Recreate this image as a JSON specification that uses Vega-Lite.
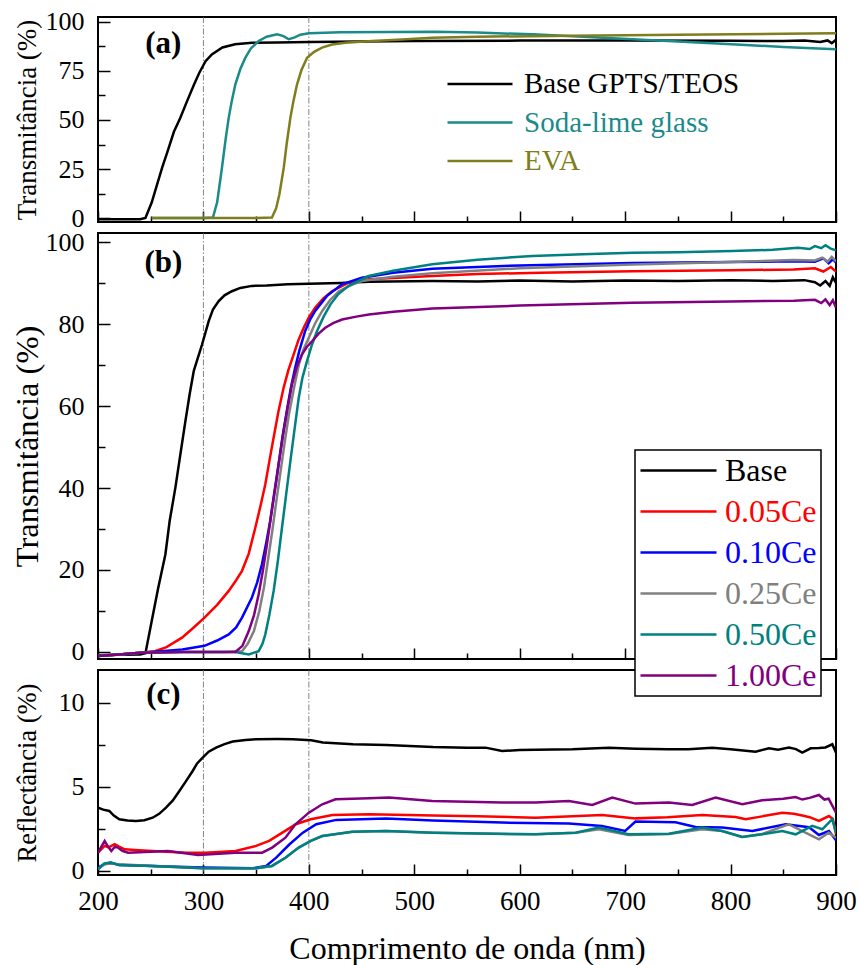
{
  "$schema": "https://vega.github.io/schema/vega-lite/v6.json",
  "background": "white",
  "padding": {"left": 10, "top": 7, "right": 4, "bottom": 2},
  "spacing": 11,
  "bounds": "flush",
  "config": {
    "font": "Liberation Serif",
    "view": {"stroke": "black", "strokeWidth": 2},
    "axis": {"labelFont": "Liberation Serif", "titleFont": "Liberation Serif", "labelColor": "black", "titleColor": "black", "tickColor": "black", "tickWidth": 1.5, "domain": false, "grid": false, "labelFlush": false, "labelOverlap": false, "titleFontWeight": "normal"},
    "legend": {"strokeWidth": 1.5, "labelFont": "Liberation Serif", "titleFont": "Liberation Serif"},
    "text": {"font": "Liberation Serif"}
  },
  "datasets": {
    "vl": [{"v": 300}, {"v": 400}],
    "a": [
      {"s":"Base GPTS/TEOS","x":200,"y":-0.6},{"s":"Base GPTS/TEOS","x":220,"y":-0.7},{"s":"Base GPTS/TEOS","x":240,"y":-0.6},{"s":"Base GPTS/TEOS","x":245,"y":0},{"s":"Base GPTS/TEOS","x":251,"y":8},{"s":"Base GPTS/TEOS","x":256,"y":17},{"s":"Base GPTS/TEOS","x":261,"y":26},{"s":"Base GPTS/TEOS","x":266,"y":34},{"s":"Base GPTS/TEOS","x":272,"y":44},{"s":"Base GPTS/TEOS","x":278,"y":51},{"s":"Base GPTS/TEOS","x":284,"y":59},{"s":"Base GPTS/TEOS","x":291,"y":68},{"s":"Base GPTS/TEOS","x":296,"y":74},{"s":"Base GPTS/TEOS","x":302,"y":80},{"s":"Base GPTS/TEOS","x":308,"y":83.5},{"s":"Base GPTS/TEOS","x":318,"y":87},{"s":"Base GPTS/TEOS","x":330,"y":88.6},{"s":"Base GPTS/TEOS","x":346,"y":89.4},{"s":"Base GPTS/TEOS","x":370,"y":89.6},{"s":"Base GPTS/TEOS","x":400,"y":89.8},{"s":"Base GPTS/TEOS","x":450,"y":90.1},{"s":"Base GPTS/TEOS","x":500,"y":90.3},{"s":"Base GPTS/TEOS","x":600,"y":90.5},{"s":"Base GPTS/TEOS","x":700,"y":90.6},{"s":"Base GPTS/TEOS","x":800,"y":90.4},{"s":"Base GPTS/TEOS","x":850,"y":90.3},{"s":"Base GPTS/TEOS","x":870,"y":90.5},{"s":"Base GPTS/TEOS","x":885,"y":89.8},{"s":"Base GPTS/TEOS","x":892,"y":90.6},{"s":"Base GPTS/TEOS","x":896,"y":89.2},{"s":"Base GPTS/TEOS","x":900,"y":91},
      {"s":"Soda-lime glass","x":251,"y":0},{"s":"Soda-lime glass","x":280,"y":0},{"s":"Soda-lime glass","x":300,"y":0},{"s":"Soda-lime glass","x":309,"y":0.2},{"s":"Soda-lime glass","x":313,"y":8},{"s":"Soda-lime glass","x":317.6,"y":25.7},{"s":"Soda-lime glass","x":321,"y":40},{"s":"Soda-lime glass","x":324,"y":51.2},{"s":"Soda-lime glass","x":327,"y":60},{"s":"Soda-lime glass","x":330.3,"y":68.2},{"s":"Soda-lime glass","x":335,"y":76},{"s":"Soda-lime glass","x":339.8,"y":81.8},{"s":"Soda-lime glass","x":345,"y":86.5},{"s":"Soda-lime glass","x":352.4,"y":90.3},{"s":"Soda-lime glass","x":360,"y":92.5},{"s":"Soda-lime glass","x":369.8,"y":93.7},{"s":"Soda-lime glass","x":376,"y":92.8},{"s":"Soda-lime glass","x":380.9,"y":91.2},{"s":"Soda-lime glass","x":386,"y":92},{"s":"Soda-lime glass","x":392,"y":93.5},{"s":"Soda-lime glass","x":400,"y":94.2},{"s":"Soda-lime glass","x":430,"y":94.8},{"s":"Soda-lime glass","x":520,"y":95},{"s":"Soda-lime glass","x":560,"y":94.6},{"s":"Soda-lime glass","x":612,"y":93.7},{"s":"Soda-lime glass","x":660,"y":92.5},{"s":"Soda-lime glass","x":707,"y":91.2},{"s":"Soda-lime glass","x":750,"y":90},{"s":"Soda-lime glass","x":801,"y":88.6},{"s":"Soda-lime glass","x":850,"y":87.3},{"s":"Soda-lime glass","x":900,"y":86.1},
      {"s":"EVA","x":251,"y":0},{"s":"EVA","x":300,"y":0},{"s":"EVA","x":350,"y":0},{"s":"EVA","x":365,"y":0.2},{"s":"EVA","x":369,"y":5},{"s":"EVA","x":372,"y":12},{"s":"EVA","x":376.2,"y":25.7},{"s":"EVA","x":379,"y":38},{"s":"EVA","x":382.5,"y":51.2},{"s":"EVA","x":385.5,"y":60},{"s":"EVA","x":388.8,"y":68.2},{"s":"EVA","x":393,"y":75.5},{"s":"EVA","x":398.3,"y":81.8},{"s":"EVA","x":405,"y":84.8},{"s":"EVA","x":412.5,"y":86.9},{"s":"EVA","x":422,"y":88.5},{"s":"EVA","x":434.6,"y":89.4},{"s":"EVA","x":460,"y":90.3},{"s":"EVA","x":488.4,"y":91.1},{"s":"EVA","x":517,"y":92},{"s":"EVA","x":560,"y":92.5},{"s":"EVA","x":650,"y":93},{"s":"EVA","x":750,"y":93.5},{"s":"EVA","x":850,"y":94},{"s":"EVA","x":900,"y":94.2}
    ],
    "b": [
      {"s":"Base","x":200,"y":-0.8},{"s":"Base","x":220,"y":-0.7},{"s":"Base","x":240,"y":-0.6},{"s":"Base","x":245,"y":-0.3},{"s":"Base","x":251,"y":7.6},{"s":"Base","x":257,"y":15.5},{"s":"Base","x":263.9,"y":23.8},{"s":"Base","x":268,"y":32},{"s":"Base","x":273.4,"y":40.1},{"s":"Base","x":278,"y":48},{"s":"Base","x":282.9,"y":56.3},{"s":"Base","x":287,"y":63},{"s":"Base","x":290.8,"y":68.5},{"s":"Base","x":295,"y":72},{"s":"Base","x":298.7,"y":75},{"s":"Base","x":305,"y":80.7},{"s":"Base","x":309,"y":83.5},{"s":"Base","x":314.5,"y":85.6},{"s":"Base","x":320,"y":87},{"s":"Base","x":327,"y":88},{"s":"Base","x":335,"y":88.8},{"s":"Base","x":346,"y":89.3},{"s":"Base","x":360,"y":89.4},{"s":"Base","x":380,"y":89.7},{"s":"Base","x":400,"y":89.8},{"s":"Base","x":430,"y":90},{"s":"Base","x":457,"y":90.3},{"s":"Base","x":517,"y":90.5},{"s":"Base","x":560,"y":90.4},{"s":"Base","x":600,"y":90.6},{"s":"Base","x":650,"y":90.4},{"s":"Base","x":700,"y":90.6},{"s":"Base","x":750,"y":90.5},{"s":"Base","x":800,"y":90.7},{"s":"Base","x":840,"y":90.5},{"s":"Base","x":870,"y":90.7},{"s":"Base","x":880,"y":90.2},{"s":"Base","x":885,"y":89.4},{"s":"Base","x":890,"y":90.5},{"s":"Base","x":894,"y":89.3},{"s":"Base","x":897,"y":91.4},{"s":"Base","x":900,"y":90},
      {"s":"0.05Ce","x":200,"y":-0.9},{"s":"0.05Ce","x":220,"y":-0.6},{"s":"0.05Ce","x":240,"y":-0.2},{"s":"0.05Ce","x":254,"y":0.2},{"s":"0.05Ce","x":265,"y":1.2},{"s":"0.05Ce","x":279.7,"y":3.5},{"s":"0.05Ce","x":290,"y":5.8},{"s":"0.05Ce","x":301,"y":8.4},{"s":"0.05Ce","x":313,"y":11.5},{"s":"0.05Ce","x":324,"y":14.9},{"s":"0.05Ce","x":331,"y":17.5},{"s":"0.05Ce","x":336.6,"y":19.8},{"s":"0.05Ce","x":343,"y":24},{"s":"0.05Ce","x":349.2,"y":30.3},{"s":"0.05Ce","x":354,"y":35.5},{"s":"0.05Ce","x":358.7,"y":40.9},{"s":"0.05Ce","x":362.5,"y":46.5},{"s":"0.05Ce","x":366.6,"y":52.3},{"s":"0.05Ce","x":371,"y":58.5},{"s":"0.05Ce","x":376.1,"y":64.5},{"s":"0.05Ce","x":380.5,"y":68.7},{"s":"0.05Ce","x":385.6,"y":72.6},{"s":"0.05Ce","x":390,"y":76},{"s":"0.05Ce","x":395.1,"y":79.1},{"s":"0.05Ce","x":400,"y":81.6},{"s":"0.05Ce","x":406.1,"y":84},{"s":"0.05Ce","x":414,"y":86.3},{"s":"0.05Ce","x":421.9,"y":88},{"s":"0.05Ce","x":437.8,"y":90.1},{"s":"0.05Ce","x":457,"y":90.9},{"s":"0.05Ce","x":517,"y":91.7},{"s":"0.05Ce","x":560,"y":92.2},{"s":"0.05Ce","x":620,"y":92.5},{"s":"0.05Ce","x":707,"y":92.9},{"s":"0.05Ce","x":800,"y":93.1},{"s":"0.05Ce","x":860,"y":93.3},{"s":"0.05Ce","x":880,"y":93.6},{"s":"0.05Ce","x":888,"y":92.8},{"s":"0.05Ce","x":895,"y":93.9},{"s":"0.05Ce","x":900,"y":92.8},
      {"s":"0.10Ce","x":200,"y":-1},{"s":"0.10Ce","x":220,"y":-0.6},{"s":"0.10Ce","x":240,"y":-0.2},{"s":"0.10Ce","x":260,"y":0.2},{"s":"0.10Ce","x":280,"y":0.6},{"s":"0.10Ce","x":301,"y":1.5},{"s":"0.10Ce","x":313,"y":2.8},{"s":"0.10Ce","x":324,"y":4.3},{"s":"0.10Ce","x":331,"y":6},{"s":"0.10Ce","x":336.6,"y":8.4},{"s":"0.10Ce","x":346,"y":13.3},{"s":"0.10Ce","x":351,"y":17},{"s":"0.10Ce","x":355.5,"y":21.4},{"s":"0.10Ce","x":359.5,"y":26.5},{"s":"0.10Ce","x":363.4,"y":32},{"s":"0.10Ce","x":367,"y":38.5},{"s":"0.10Ce","x":371.3,"y":45.8},{"s":"0.10Ce","x":375,"y":52.5},{"s":"0.10Ce","x":379.1,"y":58.8},{"s":"0.10Ce","x":383,"y":64.5},{"s":"0.10Ce","x":387,"y":69.3},{"s":"0.10Ce","x":391,"y":73.5},{"s":"0.10Ce","x":396.5,"y":78.3},{"s":"0.10Ce","x":401,"y":81},{"s":"0.10Ce","x":406,"y":83.2},{"s":"0.10Ce","x":417,"y":86.8},{"s":"0.10Ce","x":431.3,"y":89.7},{"s":"0.10Ce","x":450.3,"y":91.3},{"s":"0.10Ce","x":480,"y":92.5},{"s":"0.10Ce","x":517,"y":93.5},{"s":"0.10Ce","x":600,"y":94.3},{"s":"0.10Ce","x":707,"y":94.9},{"s":"0.10Ce","x":800,"y":95.1},{"s":"0.10Ce","x":860,"y":95.3},{"s":"0.10Ce","x":880,"y":95.2},{"s":"0.10Ce","x":888,"y":96},{"s":"0.10Ce","x":893,"y":94.8},{"s":"0.10Ce","x":897,"y":95.8},{"s":"0.10Ce","x":900,"y":95},
      {"s":"0.25Ce","x":200,"y":-1},{"s":"0.25Ce","x":220,"y":-0.6},{"s":"0.25Ce","x":240,"y":-0.2},{"s":"0.25Ce","x":280,"y":0},{"s":"0.25Ce","x":320,"y":0},{"s":"0.25Ce","x":336.6,"y":0.2},{"s":"0.25Ce","x":342,"y":2},{"s":"0.25Ce","x":347.9,"y":5.1},{"s":"0.25Ce","x":353,"y":10},{"s":"0.25Ce","x":357.4,"y":15.7},{"s":"0.25Ce","x":361,"y":22},{"s":"0.25Ce","x":365.3,"y":29.5},{"s":"0.25Ce","x":369,"y":36.5},{"s":"0.25Ce","x":373.2,"y":44.1},{"s":"0.25Ce","x":377,"y":51},{"s":"0.25Ce","x":381.1,"y":58},{"s":"0.25Ce","x":386,"y":64.5},{"s":"0.25Ce","x":390.6,"y":70.2},{"s":"0.25Ce","x":395,"y":73.8},{"s":"0.25Ce","x":400,"y":76.7},{"s":"0.25Ce","x":406,"y":80.2},{"s":"0.25Ce","x":412.7,"y":83.2},{"s":"0.25Ce","x":420,"y":85.8},{"s":"0.25Ce","x":428.5,"y":88},{"s":"0.25Ce","x":440,"y":89.5},{"s":"0.25Ce","x":450.3,"y":90.5},{"s":"0.25Ce","x":480,"y":91.5},{"s":"0.25Ce","x":517,"y":92.4},{"s":"0.25Ce","x":600,"y":93.6},{"s":"0.25Ce","x":707,"y":94.5},{"s":"0.25Ce","x":800,"y":95.1},{"s":"0.25Ce","x":860,"y":95.6},{"s":"0.25Ce","x":880,"y":95.5},{"s":"0.25Ce","x":887,"y":96.2},{"s":"0.25Ce","x":892,"y":95.2},{"s":"0.25Ce","x":896,"y":96.4},{"s":"0.25Ce","x":900,"y":95.3},
      {"s":"0.50Ce","x":200,"y":-1},{"s":"0.50Ce","x":220,"y":-0.6},{"s":"0.50Ce","x":240,"y":-0.2},{"s":"0.50Ce","x":280,"y":0},{"s":"0.50Ce","x":330,"y":0},{"s":"0.50Ce","x":343,"y":-0.6},{"s":"0.50Ce","x":352.4,"y":0.2},{"s":"0.50Ce","x":356,"y":2},{"s":"0.50Ce","x":358.7,"y":4.3},{"s":"0.50Ce","x":362.5,"y":9},{"s":"0.50Ce","x":366.6,"y":14.9},{"s":"0.50Ce","x":370.5,"y":22},{"s":"0.50Ce","x":374.5,"y":30.3},{"s":"0.50Ce","x":378.5,"y":38.5},{"s":"0.50Ce","x":382.5,"y":46.6},{"s":"0.50Ce","x":386.5,"y":54.5},{"s":"0.50Ce","x":390.4,"y":62},{"s":"0.50Ce","x":394,"y":67},{"s":"0.50Ce","x":398.3,"y":71},{"s":"0.50Ce","x":403,"y":75},{"s":"0.50Ce","x":407.8,"y":78.3},{"s":"0.50Ce","x":414,"y":81.8},{"s":"0.50Ce","x":420.5,"y":84.8},{"s":"0.50Ce","x":428,"y":87.3},{"s":"0.50Ce","x":437.8,"y":89.3},{"s":"0.50Ce","x":456.8,"y":91.7},{"s":"0.50Ce","x":480,"y":93},{"s":"0.50Ce","x":517,"y":94.6},{"s":"0.50Ce","x":560,"y":95.7},{"s":"0.50Ce","x":612,"y":96.6},{"s":"0.50Ce","x":660,"y":97},{"s":"0.50Ce","x":707,"y":97.4},{"s":"0.50Ce","x":750,"y":97.5},{"s":"0.50Ce","x":801.5,"y":97.8},{"s":"0.50Ce","x":840,"y":98.1},{"s":"0.50Ce","x":864,"y":98.6},{"s":"0.50Ce","x":875,"y":98.3},{"s":"0.50Ce","x":880,"y":99},{"s":"0.50Ce","x":886,"y":98.5},{"s":"0.50Ce","x":890,"y":99.2},{"s":"0.50Ce","x":895,"y":98.4},{"s":"0.50Ce","x":900,"y":98},
      {"s":"1.00Ce","x":200,"y":-1},{"s":"1.00Ce","x":220,"y":-0.6},{"s":"1.00Ce","x":240,"y":-0.2},{"s":"1.00Ce","x":280,"y":0},{"s":"1.00Ce","x":330.3,"y":0},{"s":"1.00Ce","x":337,"y":1.5},{"s":"1.00Ce","x":343,"y":5.1},{"s":"1.00Ce","x":348,"y":9},{"s":"1.00Ce","x":352.4,"y":14.1},{"s":"1.00Ce","x":356.5,"y":20},{"s":"1.00Ce","x":360.3,"y":26.3},{"s":"1.00Ce","x":364,"y":33},{"s":"1.00Ce","x":368.2,"y":40.1},{"s":"1.00Ce","x":372,"y":47},{"s":"1.00Ce","x":376.1,"y":53.9},{"s":"1.00Ce","x":380,"y":59.8},{"s":"1.00Ce","x":384,"y":65.3},{"s":"1.00Ce","x":388.5,"y":69.5},{"s":"1.00Ce","x":393.5,"y":72.6},{"s":"1.00Ce","x":398,"y":74.4},{"s":"1.00Ce","x":403,"y":75.8},{"s":"1.00Ce","x":409,"y":77.6},{"s":"1.00Ce","x":415.6,"y":79.1},{"s":"1.00Ce","x":423,"y":80.2},{"s":"1.00Ce","x":431.5,"y":81.1},{"s":"1.00Ce","x":445,"y":81.8},{"s":"1.00Ce","x":457,"y":82.3},{"s":"1.00Ce","x":480,"y":83},{"s":"1.00Ce","x":517,"y":83.8},{"s":"1.00Ce","x":600,"y":84.5},{"s":"1.00Ce","x":707,"y":85.2},{"s":"1.00Ce","x":800,"y":85.5},{"s":"1.00Ce","x":860,"y":85.7},{"s":"1.00Ce","x":880,"y":85.9},{"s":"1.00Ce","x":886,"y":85.1},{"s":"1.00Ce","x":890,"y":86},{"s":"1.00Ce","x":894,"y":84.6},{"s":"1.00Ce","x":897,"y":85.8},{"s":"1.00Ce","x":900,"y":84}
    ],
    "c": [
      {"s":"Base","x":200,"y":3.77},{"s":"Base","x":205,"y":3.65},{"s":"Base","x":210.7,"y":3.57},{"s":"Base","x":215,"y":3.3},{"s":"Base","x":220.2,"y":3.08},{"s":"Base","x":228,"y":3.0},{"s":"Base","x":236,"y":2.98},{"s":"Base","x":244,"y":3.02},{"s":"Base","x":251.8,"y":3.17},{"s":"Base","x":258,"y":3.4},{"s":"Base","x":264.5,"y":3.77},{"s":"Base","x":271,"y":4.2},{"s":"Base","x":277.2,"y":4.76},{"s":"Base","x":283,"y":5.3},{"s":"Base","x":289.8,"y":5.95},{"s":"Base","x":294,"y":6.4},{"s":"Base","x":299.3,"y":6.75},{"s":"Base","x":305,"y":7.1},{"s":"Base","x":312,"y":7.34},{"s":"Base","x":320,"y":7.55},{"s":"Base","x":327.8,"y":7.7},{"s":"Base","x":340,"y":7.8},{"s":"Base","x":350,"y":7.84},{"s":"Base","x":370,"y":7.85},{"s":"Base","x":384.8,"y":7.84},{"s":"Base","x":402.2,"y":7.78},{"s":"Base","x":413.3,"y":7.64},{"s":"Base","x":441.8,"y":7.54},{"s":"Base","x":473.4,"y":7.5},{"s":"Base","x":517.7,"y":7.38},{"s":"Base","x":550,"y":7.34},{"s":"Base","x":567.5,"y":7.34},{"s":"Base","x":583.3,"y":7.14},{"s":"Base","x":600,"y":7.2},{"s":"Base","x":614.9,"y":7.22},{"s":"Base","x":650,"y":7.25},{"s":"Base","x":684.5,"y":7.34},{"s":"Base","x":710,"y":7.28},{"s":"Base","x":741.5,"y":7.24},{"s":"Base","x":760,"y":7.25},{"s":"Base","x":782.6,"y":7.34},{"s":"Base","x":800,"y":7.25},{"s":"Base","x":823.7,"y":7.1},{"s":"Base","x":836.4,"y":7.3},{"s":"Base","x":845,"y":7.22},{"s":"Base","x":855.4,"y":7.34},{"s":"Base","x":862,"y":7.25},{"s":"Base","x":868,"y":7.04},{"s":"Base","x":876,"y":7.3},{"s":"Base","x":883.8,"y":7.32},{"s":"Base","x":890,"y":7.35},{"s":"Base","x":896.5,"y":7.54},{"s":"Base","x":900,"y":7.04},
      {"s":"0.05Ce","x":200,"y":1.09},{"s":"0.05Ce","x":206.3,"y":1.49},{"s":"0.05Ce","x":210,"y":1.4},{"s":"0.05Ce","x":215.8,"y":1.59},{"s":"0.05Ce","x":220,"y":1.45},{"s":"0.05Ce","x":225.3,"y":1.29},{"s":"0.05Ce","x":235,"y":1.25},{"s":"0.05Ce","x":251.8,"y":1.19},{"s":"0.05Ce","x":283.4,"y":1.09},{"s":"0.05Ce","x":301.5,"y":1.09},{"s":"0.05Ce","x":330.5,"y":1.19},{"s":"0.05Ce","x":350,"y":1.49},{"s":"0.05Ce","x":362.3,"y":1.79},{"s":"0.05Ce","x":374.9,"y":2.28},{"s":"0.05Ce","x":387.6,"y":2.78},{"s":"0.05Ce","x":401.8,"y":3.08},{"s":"0.05Ce","x":422.4,"y":3.33},{"s":"0.05Ce","x":457.2,"y":3.37},{"s":"0.05Ce","x":517.7,"y":3.3},{"s":"0.05Ce","x":560,"y":3.25},{"s":"0.05Ce","x":614.9,"y":3.17},{"s":"0.05Ce","x":650,"y":3.25},{"s":"0.05Ce","x":678.2,"y":3.33},{"s":"0.05Ce","x":709.8,"y":3.13},{"s":"0.05Ce","x":740,"y":3.2},{"s":"0.05Ce","x":773.1,"y":3.33},{"s":"0.05Ce","x":804.8,"y":3.21},{"s":"0.05Ce","x":814.3,"y":3.08},{"s":"0.05Ce","x":830,"y":3.25},{"s":"0.05Ce","x":849.1,"y":3.47},{"s":"0.05Ce","x":860,"y":3.4},{"s":"0.05Ce","x":868,"y":3.3},{"s":"0.05Ce","x":875,"y":3.2},{"s":"0.05Ce","x":883.8,"y":2.98},{"s":"0.05Ce","x":893.3,"y":3.27},{"s":"0.05Ce","x":897,"y":3.1},{"s":"0.05Ce","x":900,"y":2.18},
      {"s":"1.00Ce","x":200,"y":1.09},{"s":"1.00Ce","x":206.3,"y":1.79},{"s":"1.00Ce","x":209,"y":1.5},{"s":"1.00Ce","x":212.6,"y":1.19},{"s":"1.00Ce","x":216,"y":1.45},{"s":"1.00Ce","x":219,"y":1.39},{"s":"1.00Ce","x":223,"y":1.2},{"s":"1.00Ce","x":228.5,"y":1.09},{"s":"1.00Ce","x":266.4,"y":1.19},{"s":"1.00Ce","x":294.9,"y":0.95},{"s":"1.00Ce","x":330.5,"y":1.09},{"s":"1.00Ce","x":355.7,"y":1.09},{"s":"1.00Ce","x":365.2,"y":1.39},{"s":"1.00Ce","x":377.8,"y":1.98},{"s":"1.00Ce","x":387.3,"y":2.78},{"s":"1.00Ce","x":400,"y":3.47},{"s":"1.00Ce","x":412.7,"y":3.97},{"s":"1.00Ce","x":425.3,"y":4.27},{"s":"1.00Ce","x":457,"y":4.33},{"s":"1.00Ce","x":476,"y":4.37},{"s":"1.00Ce","x":517,"y":4.17},{"s":"1.00Ce","x":583,"y":4.07},{"s":"1.00Ce","x":615,"y":4.07},{"s":"1.00Ce","x":646.6,"y":4.17},{"s":"1.00Ce","x":668.8,"y":3.93},{"s":"1.00Ce","x":687.8,"y":4.37},{"s":"1.00Ce","x":709.8,"y":4.01},{"s":"1.00Ce","x":741.5,"y":4.07},{"s":"1.00Ce","x":763.6,"y":3.93},{"s":"1.00Ce","x":785.8,"y":4.37},{"s":"1.00Ce","x":811.1,"y":3.97},{"s":"1.00Ce","x":830,"y":4.21},{"s":"1.00Ce","x":850,"y":4.3},{"s":"1.00Ce","x":861.7,"y":4.4},{"s":"1.00Ce","x":868,"y":4.25},{"s":"1.00Ce","x":875,"y":4.35},{"s":"1.00Ce","x":883.8,"y":4.52},{"s":"1.00Ce","x":889,"y":4.25},{"s":"1.00Ce","x":893,"y":4.3},{"s":"1.00Ce","x":900,"y":3.47},
      {"s":"0.10Ce","x":200,"y":0.2},{"s":"0.10Ce","x":206,"y":0.4},{"s":"0.10Ce","x":212,"y":0.5},{"s":"0.10Ce","x":220,"y":0.35},{"s":"0.10Ce","x":251.8,"y":0.3},{"s":"0.10Ce","x":299.3,"y":0.2},{"s":"0.10Ce","x":346.8,"y":0.16},{"s":"0.10Ce","x":359.5,"y":0.3},{"s":"0.10Ce","x":369,"y":0.79},{"s":"0.10Ce","x":381.7,"y":1.59},{"s":"0.10Ce","x":394.3,"y":2.28},{"s":"0.10Ce","x":407,"y":2.78},{"s":"0.10Ce","x":426,"y":3.04},{"s":"0.10Ce","x":473.4,"y":3.12},{"s":"0.10Ce","x":517.7,"y":3.0},{"s":"0.10Ce","x":583,"y":2.88},{"s":"0.10Ce","x":646.6,"y":2.82},{"s":"0.10Ce","x":678,"y":2.68},{"s":"0.10Ce","x":700,"y":2.38},{"s":"0.10Ce","x":709.8,"y":2.94},{"s":"0.10Ce","x":747.8,"y":2.9},{"s":"0.10Ce","x":766.8,"y":2.62},{"s":"0.10Ce","x":792.1,"y":2.58},{"s":"0.10Ce","x":820.6,"y":2.38},{"s":"0.10Ce","x":852.3,"y":2.78},{"s":"0.10Ce","x":874.4,"y":2.6},{"s":"0.10Ce","x":883.8,"y":2.14},{"s":"0.10Ce","x":893.3,"y":2.38},{"s":"0.10Ce","x":900,"y":1.83},
      {"s":"0.25Ce","x":200,"y":0.1},{"s":"0.25Ce","x":206,"y":0.4},{"s":"0.25Ce","x":212,"y":0.45},{"s":"0.25Ce","x":220,"y":0.4},{"s":"0.25Ce","x":251.8,"y":0.3},{"s":"0.25Ce","x":299.3,"y":0.16},{"s":"0.25Ce","x":350,"y":0.16},{"s":"0.25Ce","x":365,"y":0.3},{"s":"0.25Ce","x":377.8,"y":0.79},{"s":"0.25Ce","x":390.4,"y":1.39},{"s":"0.25Ce","x":401.8,"y":1.79},{"s":"0.25Ce","x":412.7,"y":2.08},{"s":"0.25Ce","x":441.3,"y":2.34},{"s":"0.25Ce","x":473.4,"y":2.38},{"s":"0.25Ce","x":517.7,"y":2.28},{"s":"0.25Ce","x":615,"y":2.18},{"s":"0.25Ce","x":653,"y":2.28},{"s":"0.25Ce","x":675,"y":2.48},{"s":"0.25Ce","x":703.3,"y":2.14},{"s":"0.25Ce","x":741.5,"y":2.2},{"s":"0.25Ce","x":773.1,"y":2.48},{"s":"0.25Ce","x":792,"y":2.38},{"s":"0.25Ce","x":811,"y":2.02},{"s":"0.25Ce","x":830,"y":2.2},{"s":"0.25Ce","x":855,"y":2.78},{"s":"0.25Ce","x":871,"y":2.28},{"s":"0.25Ce","x":883.8,"y":1.88},{"s":"0.25Ce","x":893,"y":2.28},{"s":"0.25Ce","x":900,"y":1.98},
      {"s":"0.50Ce","x":200,"y":0.1},{"s":"0.50Ce","x":206,"y":0.45},{"s":"0.50Ce","x":212,"y":0.5},{"s":"0.50Ce","x":220,"y":0.35},{"s":"0.50Ce","x":251.8,"y":0.3},{"s":"0.50Ce","x":299.3,"y":0.16},{"s":"0.50Ce","x":350,"y":0.16},{"s":"0.50Ce","x":365,"y":0.3},{"s":"0.50Ce","x":377.8,"y":0.79},{"s":"0.50Ce","x":390.4,"y":1.39},{"s":"0.50Ce","x":401.8,"y":1.79},{"s":"0.50Ce","x":412.7,"y":2.08},{"s":"0.50Ce","x":441.3,"y":2.34},{"s":"0.50Ce","x":473.4,"y":2.38},{"s":"0.50Ce","x":517.7,"y":2.28},{"s":"0.50Ce","x":615,"y":2.18},{"s":"0.50Ce","x":653,"y":2.28},{"s":"0.50Ce","x":675,"y":2.58},{"s":"0.50Ce","x":703.3,"y":2.18},{"s":"0.50Ce","x":741.5,"y":2.22},{"s":"0.50Ce","x":773.1,"y":2.58},{"s":"0.50Ce","x":792,"y":2.38},{"s":"0.50Ce","x":811,"y":2.02},{"s":"0.50Ce","x":830,"y":2.18},{"s":"0.50Ce","x":849.1,"y":2.38},{"s":"0.50Ce","x":861.7,"y":2.18},{"s":"0.50Ce","x":877.5,"y":2.68},{"s":"0.50Ce","x":887,"y":2.48},{"s":"0.50Ce","x":896.5,"y":3.08},{"s":"0.50Ce","x":900,"y":2.28}
    ]
  },
  "vconcat": [
    {
      "width": 738, "height": 205,
      "layer": [
        {"data": {"name": "vl"}, "mark": {"type": "rule", "color": "#666666", "strokeWidth": 0.8, "strokeDash": [6, 2, 1.5, 2]},
         "encoding": {"x": {"field": "v", "type": "quantitative", "scale": {"domain": [200, 900], "nice": false, "zero": false}, "axis": null}}},
        {"data": {"name": "a"}, "mark": {"type": "line", "strokeWidth": 2.5, "clip": true},
         "encoding": {
           "x": {"field": "x", "type": "quantitative", "scale": {"domain": [200, 900], "nice": false, "zero": false}, "axis": {"orient": "bottom", "values": [200,300,400,500,600,700,800,900], "tickSize": -11, "labels": false, "title": null}},
           "y": {"field": "y", "type": "quantitative", "scale": {"domain": [-2.04, 102.55], "nice": false, "zero": false}, "axis": {"orient": "left", "values": [0,25,50,75,100], "tickSize": -12, "labelPadding": 26, "labelFont": "Liberation Serif", "labelFontSize": 26, "title": "Transmitância (%)", "titleFont": "Liberation Serif", "titleFontSize": 27, "titleX": -71, "titleBaseline": "middle"}},
           "color": {"field": "s", "type": "nominal", "sort": null,
             "scale": {"domain": ["Base GPTS/TEOS", "Soda-lime glass", "EVA"], "range": ["#000000", "#1b8a8a", "#7f7d1c"]},
             "legend": {"orient": "none", "legendX": 348, "legendY": 50, "direction": "vertical", "title": null, "symbolType": "stroke", "symbolSize": 4225, "symbolStrokeWidth": 2.5, "labelFont": "Liberation Serif", "labelFontSize": 29, "labelOffset": 10, "labelLimit": 400, "clipHeight": 34, "rowPadding": 4.5, "padding": 0,
               "encode": {"labels": {"update": {"font": {"value": "Liberation Serif"}, "fill": {"signal": "datum.value == 'Base GPTS/TEOS' ? '#000000' : datum.value == 'Soda-lime glass' ? '#1b8a8a' : '#7f7d1c'"}}}}}}
         }},
        {"data": {"values": [{"t": "(a)", "x": 262, "y": 88.8}]}, "mark": {"type": "text", "font": "Liberation Serif", "fontWeight": "bold", "fontSize": 31, "color": "black"},
         "encoding": {
           "text": {"field": "t"},
           "x": {"field": "x", "type": "quantitative", "scale": {"domain": [200, 900], "nice": false, "zero": false}, "axis": {"orient": "bottom", "values": [250,350,450,550,650,750,850], "tickSize": -6, "labels": false, "title": null}},
           "y": {"field": "y", "type": "quantitative", "scale": {"domain": [-2.04, 102.55], "nice": false, "zero": false}, "axis": {"orient": "left", "values": [12.5,37.5,62.5,87.5], "tickSize": -7, "labels": false, "title": null}}
         }}
      ],
      "resolve": {"axis": {"x": "independent", "y": "independent"}}
    },
    {
      "width": 738, "height": 426,
      "layer": [
        {"data": {"name": "vl"}, "mark": {"type": "rule", "color": "#666666", "strokeWidth": 0.8, "strokeDash": [6, 2, 1.5, 2]},
         "encoding": {"x": {"field": "v", "type": "quantitative", "scale": {"domain": [200, 900], "nice": false, "zero": false}, "axis": null}}},
        {"data": {"name": "b"}, "mark": {"type": "line", "strokeWidth": 2.5, "clip": true},
         "encoding": {
           "x": {"field": "x", "type": "quantitative", "scale": {"domain": [200, 900], "nice": false, "zero": false}, "axis": {"orient": "bottom", "values": [200,300,400,500,600,700,800,900], "tickSize": -11, "labels": false, "title": null}},
           "y": {"field": "y", "type": "quantitative", "scale": {"domain": [-1.71, 102.2], "nice": false, "zero": false}, "axis": {"orient": "left", "values": [0,20,40,60,80,100], "tickSize": -12, "labelPadding": 26, "labelFont": "Liberation Serif", "labelFontSize": 26, "title": "Transmitância (%)", "titleFont": "Liberation Serif", "titleFontSize": 32.5, "titleX": -71, "titleBaseline": "middle"}},
           "color": {"field": "s", "type": "nominal", "sort": null,
             "scale": {"domain": ["Base", "0.05Ce", "0.10Ce", "0.25Ce", "0.50Ce", "1.00Ce"], "range": ["#000000", "#ff0000", "#0000ff", "#808080", "#008080", "#800080"]},
             "legend": null}
         }},
        {"data": {"values": [{"t": "(b)", "x": 262, "y": 94.9}]}, "mark": {"type": "text", "font": "Liberation Serif", "fontWeight": "bold", "fontSize": 31, "color": "black"},
         "encoding": {
           "text": {"field": "t"},
           "x": {"field": "x", "type": "quantitative", "scale": {"domain": [200, 900], "nice": false, "zero": false}, "axis": {"orient": "bottom", "values": [250,350,450,550,650,750,850], "tickSize": -6, "labels": false, "title": null}},
           "y": {"field": "y", "type": "quantitative", "scale": {"domain": [-1.71, 102.2], "nice": false, "zero": false}, "axis": {"orient": "left", "values": [10,30,50,70,90], "tickSize": -7, "labels": false, "title": null}}
         }}
      ],
      "resolve": {"axis": {"x": "independent", "y": "independent"}}
    },
    {
      "width": 738, "height": 205,
      "layer": [
        {"data": {"name": "vl"}, "mark": {"type": "rule", "color": "#666666", "strokeWidth": 0.8, "strokeDash": [6, 2, 1.5, 2]},
         "encoding": {"x": {"field": "v", "type": "quantitative", "scale": {"domain": [200, 900], "nice": false, "zero": false}, "axis": null}}},
        {"data": {"name": "c"}, "mark": {"type": "line", "strokeWidth": 2.5, "clip": true},
         "encoding": {
           "x": {"field": "x", "type": "quantitative", "scale": {"domain": [200, 900], "nice": false, "zero": false}, "axis": {"orient": "bottom", "values": [200,300,400,500,600,700,800,900], "tickSize": -11, "labelPadding": 24, "labelFont": "Liberation Serif", "labelFontSize": 27, "title": "Comprimento de onda (nm)", "titleFont": "Liberation Serif", "titleFontSize": 32, "titleY": 73, "titleBaseline": "middle"}},
           "y": {"field": "y", "type": "quantitative", "scale": {"domain": [-0.24, 11.96], "nice": false, "zero": false}, "axis": {"orient": "left", "values": [0,5,10], "tickSize": -12, "labelPadding": 26, "labelFont": "Liberation Serif", "labelFontSize": 26, "title": "Reflectância (%)", "titleFont": "Liberation Serif", "titleFontSize": 26.5, "titleX": -71, "titleBaseline": "middle"}},
           "color": {"field": "s", "type": "nominal", "sort": null,
             "scale": {"domain": ["Base", "0.05Ce", "0.10Ce", "0.25Ce", "0.50Ce", "1.00Ce"], "range": ["#000000", "#ff0000", "#0000ff", "#808080", "#008080", "#800080"]},
             "legend": {"orient": "none", "legendX": 537, "legendY": -220, "direction": "vertical", "title": null, "symbolType": "stroke", "symbolSize": 5776, "symbolStrokeWidth": 2.5, "labelFont": "Liberation Serif", "labelFontSize": 32, "labelOffset": 7, "labelLimit": 400, "clipHeight": 33, "rowPadding": 8, "padding": 4, "strokeColor": "black", "fillColor": "white",
               "encode": {"labels": {"update": {"font": {"value": "Liberation Serif"}, "fill": {"signal": "datum.value == 'Base' ? '#000000' : datum.value == '0.05Ce' ? '#ff0000' : datum.value == '0.10Ce' ? '#0000ff' : datum.value == '0.25Ce' ? '#808080' : datum.value == '0.50Ce' ? '#008080' : '#800080'"}}}}}}
         }},
        {"data": {"values": [{"t": "(c)", "x": 262, "y": 10.5}]}, "mark": {"type": "text", "font": "Liberation Serif", "fontWeight": "bold", "fontSize": 31, "color": "black"},
         "encoding": {
           "text": {"field": "t"},
           "x": {"field": "x", "type": "quantitative", "scale": {"domain": [200, 900], "nice": false, "zero": false}, "axis": {"orient": "bottom", "values": [250,350,450,550,650,750,850], "tickSize": -6, "labels": false, "title": null}},
           "y": {"field": "y", "type": "quantitative", "scale": {"domain": [-0.24, 11.96], "nice": false, "zero": false}, "axis": {"orient": "left", "values": [2.5,7.5], "tickSize": -7, "labels": false, "title": null}}
         }}
      ],
      "resolve": {"axis": {"x": "independent", "y": "independent"}}
    }
  ],
  "resolve": {"scale": {"color": "independent", "x": "independent", "y": "independent"}, "legend": {"color": "independent"}}
}
